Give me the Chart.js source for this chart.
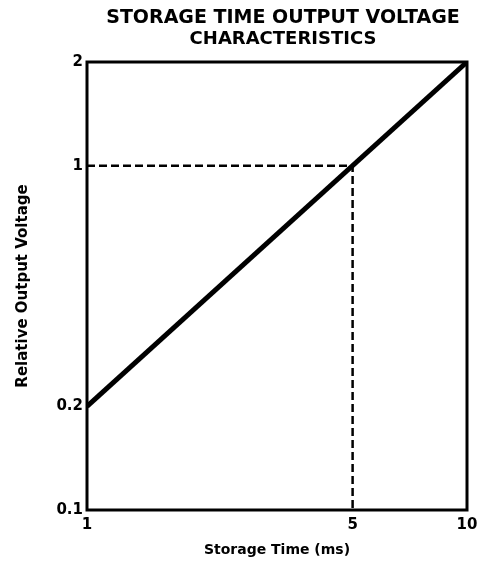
<!DOCTYPE html>
<html>
<head>
<meta charset="utf-8">
<script src="https://cdn.jsdelivr.net/npm/chart.js@4/dist/chart.umd.min.js"></script>
<style>
  html, body { margin: 0; padding: 0; background: #fff; }
  #wrap { width: 479px; height: 567px; }
</style>
</head>
<body>
<div id="wrap"><canvas id="chart"></canvas></div>
<script>
// storage time vs relative output voltage (log-log)
const storageTime = [1, 10];
const outputVoltage = [0.2, 2];
const refTime = [1, 5, 5];
const refVoltage = [1, 1, 0.1];
const timeTicks = [1, 5, 10];
const voltageTicks = [0.1, 0.2, 1, 2];
const titleLines = ['STORAGE TIME OUTPUT VOLTAGE', 'CHARACTERISTICS'];

const toPoints = (xs, ys) => xs.map((x, i) => ({ x: x, y: ys[i] }));

// box round the plot plus the two-line heading centred over it
const framePlugin = {
  id: 'frame',
  afterDatasetsDraw(chart) {
    const { ctx, chartArea: a } = chart;
    ctx.save();
    ctx.strokeStyle = '#000';
    ctx.lineWidth = 3;
    ctx.strokeRect(a.left, a.top, a.right - a.left, a.bottom - a.top);
    ctx.restore();
  },
  afterDraw(chart) {
    const { ctx, chartArea: a } = chart;
    const cx = (a.left + a.right) / 2 + 6;
    ctx.save();
    ctx.fillStyle = '#000';
    ctx.textAlign = 'center';
    ctx.textBaseline = 'middle';
    ctx.font = 'bold 19px "DejaVu Sans"';
    ctx.fillText(titleLines[0], cx, 18);
    ctx.font = 'bold 18px "DejaVu Sans"';
    ctx.fillText(titleLines[1], cx, 39);
    ctx.restore();
  }
};

const tickFont = { family: '"DejaVu Sans"', size: 15, weight: 'bold' };

new Chart(document.getElementById('chart'), {
  type: 'line',
  data: {
    datasets: [
      {
        data: toPoints(storageTime, outputVoltage),
        borderColor: '#000',
        borderWidth: 5,
        pointRadius: 0
      },
      {
        data: toPoints(refTime, refVoltage),
        borderColor: '#000',
        borderWidth: 2.5,
        borderDash: [8, 4],
        pointRadius: 0
      }
    ]
  },
  options: {
    responsive: true,
    maintainAspectRatio: false,
    animation: false,
    layout: { padding: { top: 62, right: 12, left: 0, bottom: 0 } },
    plugins: {
      legend: { display: false },
      tooltip: { enabled: false }
    },
    scales: {
      x: {
        type: 'logarithmic',
        min: 1,
        max: 10,
        afterBuildTicks: s => { s.ticks = timeTicks.map(v => ({ value: v })); },
        afterFit: s => {
          s.height = 57;
          s.paddingLeft = 0;
          s.paddingRight = 0;
        },
        grid: { display: false, drawTicks: false },
        border: { display: false },
        ticks: {
          color: '#000',
          font: tickFont,
          padding: 6,
          autoSkip: false,
          maxRotation: 0,
          callback: v => String(v)
        },
        title: {
          display: true,
          text: 'Storage Time (ms)',
          color: '#000',
          font: { family: '"DejaVu Sans"', size: 14, weight: 'bold' },
          padding: { top: 0, bottom: 8 }
        }
      },
      y: {
        type: 'logarithmic',
        min: 0.1,
        max: 2,
        afterBuildTicks: s => { s.ticks = voltageTicks.map(v => ({ value: v })); },
        afterFit: s => {
          s.width = 87;
          s.paddingTop = 0;
          s.paddingBottom = 0;
        },
        grid: { display: false, drawTicks: false },
        border: { display: false },
        ticks: {
          color: '#000',
          font: tickFont,
          padding: 4,
          autoSkip: false,
          callback: v => String(v)
        },
        title: {
          display: true,
          text: 'Relative Output Voltage',
          color: '#000',
          font: { family: '"DejaVu Sans"', size: 15, weight: 'bold' },
          padding: { top: 14, bottom: 0 }
        }
      }
    }
  },
  plugins: [framePlugin]
});
</script>
</body>
</html>
